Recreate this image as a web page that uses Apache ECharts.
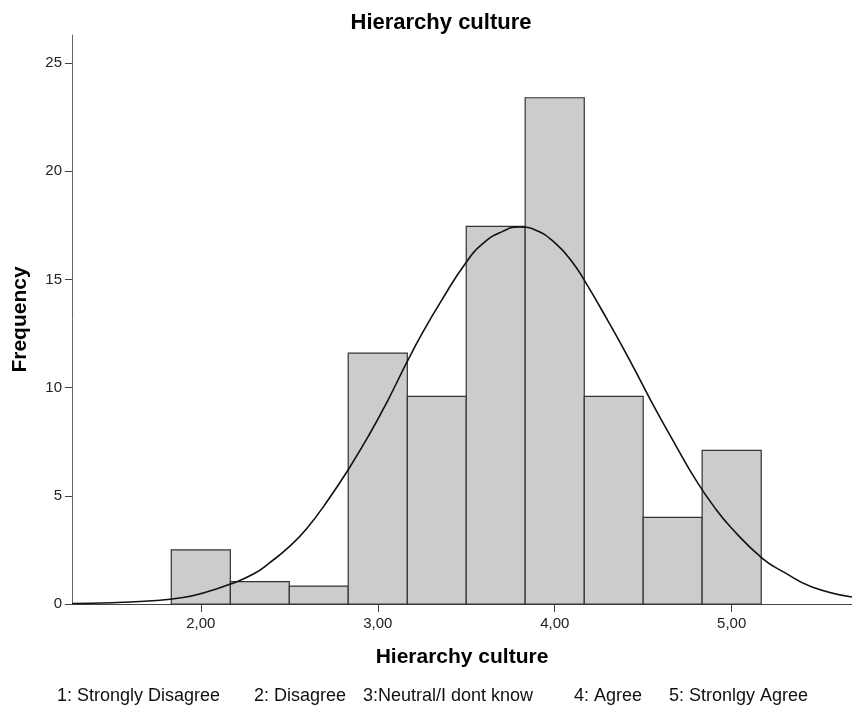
<!DOCTYPE html>
<html>
<head>
<meta charset="utf-8">
<script src="https://cdn.jsdelivr.net/npm/echarts@6/dist/echarts.min.js"></script>
<style>
  html, body { margin: 0; padding: 0; background: #fff; }
  #main { width: 852px; height: 718px; }
</style>
</head>
<body>
<div id="main"></div>
<script>
// histogram bins (edges) and frequencies
const binLow = [1.833, 2.167, 2.5, 2.833, 3.167, 3.5, 3.833, 4.167, 4.5, 4.833]
const binHigh = [2.167, 2.5, 2.833, 3.167, 3.5, 3.833, 4.167, 4.5, 4.833, 5.167]
const frequency = [2.5, 1.03, 0.83, 11.6, 9.6, 17.45, 23.4, 9.6, 4.0, 7.1]

// normal curve
const curveX = [1.272, 1.5, 1.75, 1.9, 2.0, 2.168, 2.3, 2.388, 2.5, 2.6, 2.727, 2.84, 2.95, 3.05, 3.166, 3.25, 3.358, 3.5, 3.6, 3.7, 3.8, 3.9, 4.0, 4.1, 4.172, 4.3, 4.422, 4.55, 4.686, 4.8, 4.9, 5.0, 5.175, 5.3, 5.45, 5.68]
const curveY = [0.02, 0.06, 0.16, 0.3, 0.48, 0.92, 1.4, 1.9, 2.65, 3.5, 4.9, 6.3, 7.8, 9.3, 11.2, 12.5, 14.0, 15.8, 16.7, 17.2, 17.43, 17.25, 16.7, 15.8, 14.9, 13.1, 11.3, 9.3, 7.3, 5.7, 4.5, 3.5, 2.1, 1.45, 0.8, 0.32]

const xTicks = [2, 3, 4, 5]
const yTicks = [0, 5, 10, 15, 20, 25]

// answer scale shown under the chart
const scaleLabels = ['1: Strongly Disagree', '2: Disagree', '3:Neutral/I dont know', '4: Agree', '5: Stronlgy Agree']
const scaleLabelX = [57, 254, 363, 574, 669]

const font = '"Liberation Sans", Arial, sans-serif'

const bars = binLow.map((lo, i) => [lo, binHigh[i], frequency[i]])
const curve = curveX.map((x, i) => [x, curveY[i]])

const chart = echarts.init(document.getElementById('main'))
chart.setOption({
  animation: false,
  title: {
    text: 'Hierarchy culture',
    left: 436,
    top: 7,
    textAlign: 'center',
    textStyle: { fontFamily: font, fontSize: 22, fontWeight: 'bold', color: '#000' }
  },
  grid: { left: 72, right: 0, top: 35, bottom: 114, containLabel: false, outerBoundsMode: 'none' },
  xAxis: {
    type: 'value',
    min: 1.272,
    max: 5.68,
    name: 'Hierarchy culture',
    nameLocation: 'middle',
    nameGap: 43,
    nameTextStyle: { fontFamily: font, fontSize: 21, fontWeight: 'bold', color: '#000' },
    splitLine: { show: false },
    axisLine: { lineStyle: { color: '#444', width: 1 } },
    axisTick: { customValues: xTicks, length: 8, lineStyle: { color: '#444' } },
    axisLabel: {
      customValues: xTicks,
      fontFamily: font, fontSize: 15, color: '#222', margin: 12,
      formatter: v => v.toFixed(2).replace('.', ',')
    }
  },
  yAxis: {
    type: 'value',
    min: 0,
    max: 26.3,
    name: 'Frequency',
    nameLocation: 'middle',
    nameGap: 41,
    nameTextStyle: { fontFamily: font, fontSize: 21, fontWeight: 'bold', color: '#000' },
    splitLine: { show: false },
    axisLine: { show: true, lineStyle: { color: '#666', width: 1 } },
    axisTick: { show: true, customValues: yTicks, length: 7, lineStyle: { color: '#444' } },
    axisLabel: { customValues: yTicks, fontFamily: font, fontSize: 15, color: '#222', margin: 10 }
  },
  graphic: scaleLabels.map((t, i) => ({
    type: 'text',
    left: scaleLabelX[i],
    top: 687,
    style: { text: t, font: '18px ' + font, fill: '#111' }
  })),
  series: [
    {
      type: 'custom',
      data: bars,
      encode: { x: [0, 1], y: 2 },
      renderItem: (params, api) => {
        const p0 = api.coord([api.value(0), 0])
        const p1 = api.coord([api.value(1), api.value(2)])
        return {
          type: 'rect',
          shape: { x: p0[0], y: p1[1], width: p1[0] - p0[0], height: p0[1] - p1[1] },
          style: { fill: '#cccccc', stroke: '#333', lineWidth: 1.2 }
        }
      },
      z: 2
    },
    {
      type: 'line',
      data: curve,
      smooth: 0.5,
      showSymbol: false,
      lineStyle: { color: '#111', width: 1.6 },
      z: 3
    }
  ]
})
</script>
</body>
</html>
